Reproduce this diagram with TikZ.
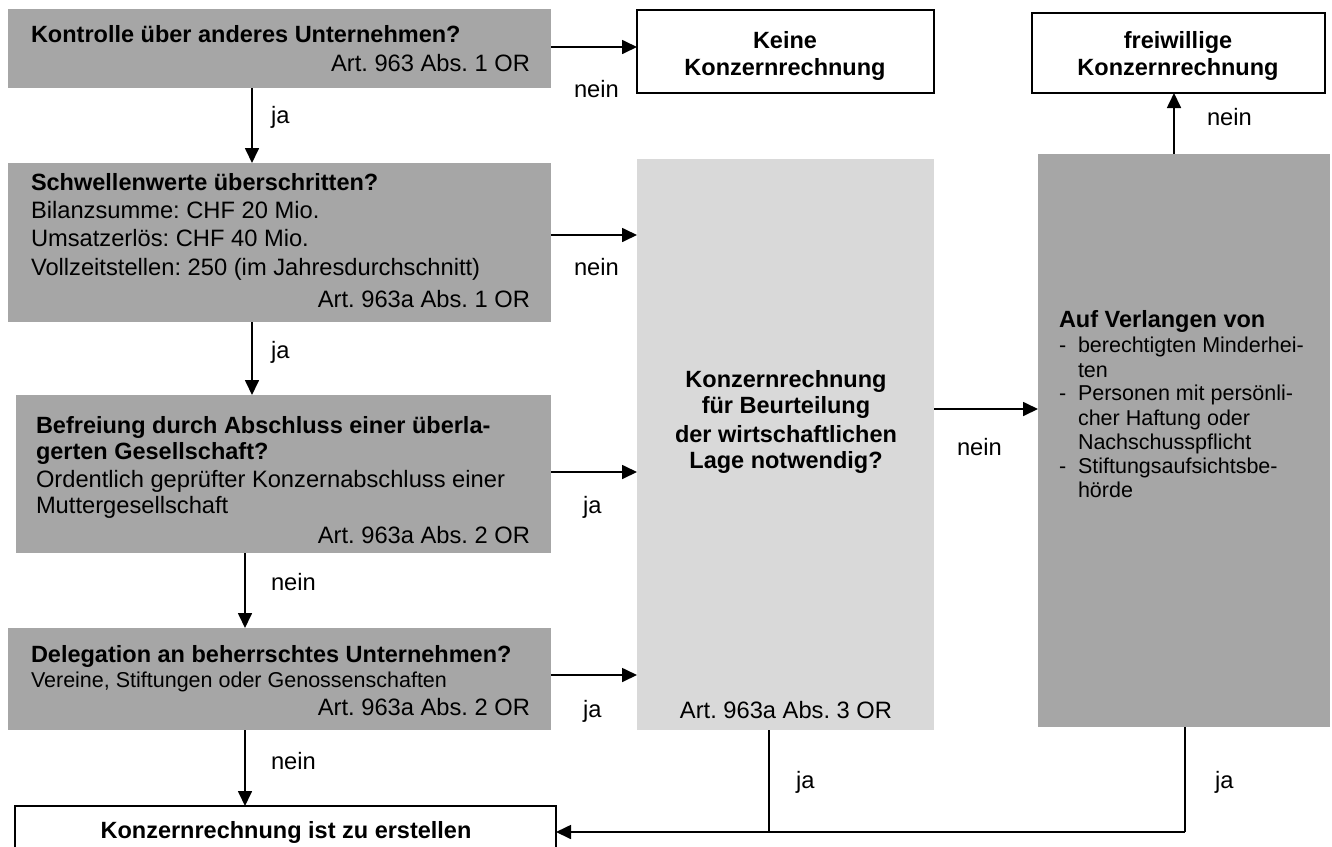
\documentclass[tikz,border=0pt]{standalone}
\usepackage{fontspec}
\setmainfont{Liberation Sans}
\usetikzlibrary{arrows.meta}
\definecolor{dgray}{HTML}{A6A6A6}
\definecolor{lgray}{HTML}{D9D9D9}
\frenchspacing
\begin{document}
\begin{tikzpicture}[x=1pt,y=-1pt,
  gbox/.style={fill=dgray, draw=none, inner sep=0pt, outer sep=0pt, anchor=north west},
  lbox/.style={fill=lgray, draw=none, inner sep=0pt, outer sep=0pt, anchor=north west},
  wbox/.style={fill=white, draw=black, line width=1.4pt, inner sep=0pt, outer sep=0pt, anchor=north west},
  rg/.style={font=\fontsize{23.7}{27}\selectfont\frenchspacing, inner sep=0pt, outer sep=0pt},
  bd/.style={font=\fontsize{23.5}{27}\selectfont\bfseries\frenchspacing, inner sep=0pt, outer sep=0pt},
  sm/.style={font=\fontsize{21.5}{24}\selectfont\frenchspacing, inner sep=0pt, outer sep=0pt},
  arr/.style={line width=1.7pt, -{Triangle[length=15pt,width=14pt]}},
  feed/.style={line width=1.2pt}]
\useasboundingbox (0,0) rectangle (1332,846);

% boxes
\node[gbox, minimum width=543pt, minimum height=79pt] (b1) at (8,9) {};
\node[wbox, minimum width=297pt, minimum height=83pt] (keine) at (637,10) {};
\node[wbox, minimum width=293pt, minimum height=80pt] (frei) at (1032,13) {};
\node[gbox, minimum width=543pt, minimum height=159pt] (b2) at (8,163) {};
\node[gbox, minimum width=535pt, minimum height=158pt] (b3) at (16,395) {};
\node[gbox, minimum width=543pt, minimum height=102pt] (b4) at (8,628) {};
\node[wbox, minimum width=541pt, minimum height=80pt] (b5) at (15,806) {};
\node[lbox, minimum width=297pt, minimum height=571pt] (lg) at (637,159) {};
\node[gbox, minimum width=292pt, minimum height=573pt] (dg) at (1038,154) {};

% texts box 1
\node[bd, anchor=base west] (b1a) at (31,42) {Kontrolle über anderes Unternehmen?};
\node[rg, anchor=base east] (b1b) at (530,71) {Art. 963 Abs. 1 OR};
% Keine / freiwillige
\node[bd, anchor=base] (k1) at (785,48) {Keine};
\node[bd, anchor=base] (k2) at (785,75) {Konzernrechnung};
\node[bd, anchor=base] (f1) at (1178,48) {freiwillige};
\node[bd, anchor=base] (f2) at (1178,75) {Konzernrechnung};
% box 2
\node[bd, anchor=base west] (b2a) at (31,190) {Schwellenwerte überschritten?};
\node[rg, anchor=base west] (b2b) at (31,218) {Bilanzsumme: CHF 20 Mio.};
\node[rg, anchor=base west] (b2c) at (31,246) {Umsatzerlös: CHF 40 Mio.};
\node[rg, anchor=base west] (b2d) at (31,275) {Vollzeitstellen: 250 (im Jahresdurchschnitt)};
\node[rg, anchor=base east] (b2e) at (530,307) {Art. 963a Abs. 1 OR};
% box 3
\node[bd, anchor=base west] (b3a) at (36,433) {Befreiung durch Abschluss einer überla-};
\node[bd, anchor=base west] (b3b) at (36,459) {gerten Gesellschaft?};
\node[rg, anchor=base west] (b3c) at (36,487) {Ordentlich geprüfter Konzernabschluss einer};
\node[rg, anchor=base west] (b3d) at (36,513) {Muttergesellschaft};
\node[rg, anchor=base east] (b3e) at (530,543) {Art. 963a Abs. 2 OR};
% box 4
\node[bd, anchor=base west] (b4a) at (31,662) {Delegation an beherrschtes Unternehmen?};
\node[sm, anchor=base west] (b4b) at (31,687) {Vereine, Stiftungen oder Genossenschaften};
\node[rg, anchor=base east] (b4c) at (530,715) {Art. 963a Abs. 2 OR};
% box 5
\node[bd, anchor=base] (b5a) at (286,838) {Konzernrechnung ist zu erstellen};
% light gray
\node[bd, anchor=base] (lga) at (786,387) {Konzernrechnung};
\node[bd, anchor=base] (lgb) at (786,413) {für Beurteilung};
\node[bd, anchor=base] (lgc) at (786,442) {der wirtschaftlichen};
\node[bd, anchor=base] (lgd) at (786,468) {Lage notwendig?};
\node[rg, anchor=base] (lge) at (786,718) {Art. 963a Abs. 3 OR};
% dark gray
\node[bd, anchor=base west] (dga) at (1059,327) {Auf Verlangen von};
\node[sm, anchor=base west] (dd1) at (1059,352) {-};
\node[sm, anchor=base west] (dgb) at (1078,352) {berechtigten Minderhei-};
\node[sm, anchor=base west] (dgc) at (1078,377) {ten};
\node[sm, anchor=base west] (dd2) at (1059,400) {-};
\node[sm, anchor=base west] (dgd) at (1078,400) {Personen mit persönli-};
\node[sm, anchor=base west] (dge) at (1078,425) {cher Haftung oder};
\node[sm, anchor=base west] (dgf) at (1078,449) {Nachschusspflicht};
\node[sm, anchor=base west] (dd3) at (1059,473) {-};
\node[sm, anchor=base west] (dgg) at (1078,473) {Stiftungsaufsichtsbe-};
\node[sm, anchor=base west] (dgh) at (1078,497) {hörde};

% connectors
\draw[arr] (b1.east |- 0,47) -- (keine.west |- 0,47);
\draw[arr] (b1.south -| 252,0) -- (b2.north -| 252,0);
\draw[arr] (b2.east |- 0,235) -- (lg.west |- 0,235);
\draw[arr] (b2.south -| 252,0) -- (b3.north -| 252,0);
\draw[arr] (b3.east |- 0,472) -- (lg.west |- 0,472);
\draw[arr] (b3.south -| 245,0) -- (b4.north -| 245,0);
\draw[arr] (b4.east |- 0,675) -- (lg.west |- 0,675);
\draw[arr] (b4.south -| 245,0) -- (b5.north -| 245,0);
\draw[arr] (lg.east |- 0,409) -- (dg.west |- 0,409);
\draw[arr] (dg.north -| 1174,0) -- (frei.south -| 1174,0);
\coordinate (j1) at (769,832);
\coordinate (j2) at (1185,832);
\draw[feed] (lg.south -| j1) -- (j1);
\draw[feed] (dg.south -| j2) -- (j2);
\draw[arr] (j2) -- (b5.east |- j2);

% labels
\node[rg, anchor=base west] (l1) at (574,97) {nein};
\node[rg, anchor=base west] (l2) at (271,123) {ja};
\node[rg, anchor=base west] (l3) at (574,275) {nein};
\node[rg, anchor=base west] (l4) at (271,358) {ja};
\node[rg, anchor=base west] (l5) at (583,513) {ja};
\node[rg, anchor=base west] (l6) at (271,590) {nein};
\node[rg, anchor=base west] (l7) at (583,717) {ja};
\node[rg, anchor=base west] (l8) at (271,769) {nein};
\node[rg, anchor=base west] (l9) at (957,455) {nein};
\node[rg, anchor=base west] (l10) at (796,788) {ja};
\node[rg, anchor=base west] (l11) at (1215,788) {ja};
\node[rg, anchor=base west] (l12) at (1207,125) {nein};
\end{tikzpicture}
\end{document}
